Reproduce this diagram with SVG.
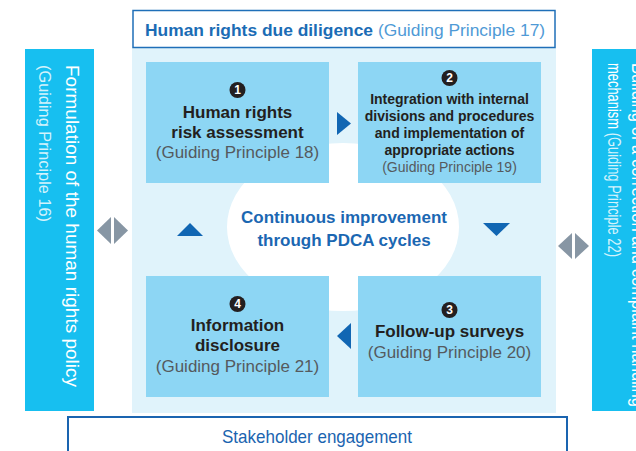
<svg xmlns="http://www.w3.org/2000/svg" width="636" height="451" viewBox="0 0 636 451">
<defs>
<style>
text{font-family:"Liberation Sans",Arial,sans-serif;}
.box{fill:#8dd6f4;}
.bar{fill:#17bff0;}
.blk{font-weight:bold;fill:#231f20;font-size:17px;text-anchor:middle;}
.blk2{font-weight:bold;fill:#231f20;font-size:14px;text-anchor:middle;}
.gp{fill:#555a5e;font-size:17px;text-anchor:middle;}
.gp2{fill:#555a5e;font-size:14px;text-anchor:middle;}
.num{fill:#231f20;}
.numt{fill:#fff;font-weight:bold;font-size:12px;text-anchor:middle;}
.barT{fill:#fff;font-size:18px;}
.barL{fill:#fff;fill-opacity:0.82;font-size:17px;}
.arr{fill:#1166b3;}
.dbl{fill:#8796a4;}
</style>
</defs>
<rect x="0" y="0" width="636" height="451" fill="#fff"/>
<g id="due-diligence">
<rect x="132" y="47" width="424" height="366" fill="#e0f3fb"/>
<ellipse cx="343" cy="227" rx="116" ry="84" fill="#fff"/>
<rect x="133" y="10.5" width="422" height="37" fill="#fff" stroke="#1f6fb8" stroke-width="1.5"/>
<text x="145" y="36" font-size="17.4" fill="#1b6cb5"><tspan font-weight="bold">Human rights due diligence</tspan><tspan fill="#4f9ad6"> (Guiding Principle 17)</tspan></text>
</g>
<g id="center-label">
<text x="344" y="223" font-size="17" font-weight="bold" fill="#1b67b2" text-anchor="middle">Continuous improvement</text>
<text x="344" y="246" font-size="17" font-weight="bold" fill="#1b67b2" text-anchor="middle">through PDCA cycles</text>
</g>
<g id="step1">
<rect class="box" x="146" y="62" width="183" height="121"/>
<circle class="num" cx="237.5" cy="90" r="8"/>
<text class="numt" x="237.5" y="94.3">1</text>
<text class="blk" x="237.5" y="118">Human rights</text>
<text class="blk" x="237.5" y="138">risk assessment</text>
<text class="gp" x="237.5" y="158">(Guiding Principle 18)</text>
</g>
<g id="step2">
<rect class="box" x="358" y="62" width="183" height="121"/>
<circle class="num" cx="449.5" cy="78" r="8"/>
<text class="numt" x="449.5" y="82.3">2</text>
<text class="blk2" x="449.5" y="104">Integration with internal</text>
<text class="blk2" x="449.5" y="121">divisions and procedures</text>
<text class="blk2" x="449.5" y="138">and implementation of</text>
<text class="blk2" x="449.5" y="155">appropriate actions</text>
<text class="gp2" x="449.5" y="172">(Guiding Principle 19)</text>
</g>
<g id="step3">
<rect class="box" x="358" y="276" width="183" height="121"/>
<circle class="num" cx="449.5" cy="310" r="8"/>
<text class="numt" x="449.5" y="314.3">3</text>
<text class="blk" x="449.5" y="337">Follow-up surveys</text>
<text class="gp" x="449.5" y="358">(Guiding Principle 20)</text>
</g>
<g id="step4">
<rect class="box" x="146" y="276" width="183" height="121"/>
<circle class="num" cx="237.5" cy="304" r="8"/>
<text class="numt" x="237.5" y="308.3">4</text>
<text class="blk" x="237.5" y="331">Information</text>
<text class="blk" x="237.5" y="351">disclosure</text>
<text class="gp" x="237.5" y="372">(Guiding Principle 21)</text>
</g>
<g id="policy">
<rect class="bar" x="25" y="49" width="69" height="362"/>
<text class="barT" transform="translate(66,65) rotate(90)" textLength="322" lengthAdjust="spacingAndGlyphs">Formulation of the human rights policy</text>
<text class="barL" transform="translate(39,65) rotate(90)" textLength="157" lengthAdjust="spacingAndGlyphs">(Guiding Principle 16)</text>
</g>
<g id="grievance">
<rect class="bar" x="592" y="49" width="50" height="362"/>
<text class="barT" transform="translate(632,63) rotate(90)" font-size="17" textLength="344" lengthAdjust="spacingAndGlyphs">Building of a correction and complaint handling</text>
<text class="barT" transform="translate(607.5,63) rotate(90)" font-size="17" textLength="194" lengthAdjust="spacingAndGlyphs">mechanism<tspan fill-opacity="0.82"> (Guiding Principle 22)</tspan></text>
</g>
<g id="stakeholder">
<rect x="68" y="417" width="499" height="50" fill="#fff" stroke="#1a64b0" stroke-width="2"/>
<text x="317" y="443" font-size="19" fill="#1a64b0" text-anchor="middle" textLength="190" lengthAdjust="spacingAndGlyphs">Stakeholder engagement</text>
</g>
<g id="connectors">
<polygon class="arr" points="337,112 351,123.5 337,135"/>
<polygon class="arr" points="483,223 510,223 496.5,236"/>
<polygon class="arr" points="351,323 337,336 351,349"/>
<polygon class="arr" points="177,236 203,236 190,223"/>
<polygon class="dbl" points="97,230.5 111,217 111,244"/>
<polygon class="dbl" points="114,217 128,230.5 114,244"/>
<polygon class="dbl" points="558,246 572,233 572,259"/>
<polygon class="dbl" points="575,233 589,246 575,259"/>
</g>
</svg>
